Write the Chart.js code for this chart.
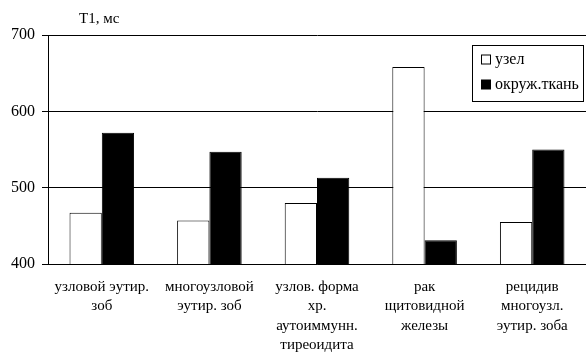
<!DOCTYPE html>
<html>
<head>
<meta charset="utf-8">
<script src="https://cdn.jsdelivr.net/npm/chart.js@4"></script>
<style>
  html, body { margin: 0; padding: 0; background: #fff; }
  #wrap { width: 586px; height: 354px; }
</style>
</head>
<body>
<div id="wrap"><canvas id="c" width="586" height="354"></canvas></div>
<script>
const categories = [
  ['узловой эутир.', 'зоб'],
  ['многоузловой', 'эутир. зоб'],
  ['узлов. форма', 'хр.', 'аутоиммунн.', 'тиреоидита'],
  ['рак', 'щитовидной', 'железы'],
  ['рецидив', 'многоузл.', 'эутир. зоба']
];
const nodeValues = [467, 457, 480, 658, 455];
const tissueValues = [572, 547, 513, 431, 550];
const seriesNames = ['узел', 'окруж.ткань'];
const yTicks = [400, 500, 600, 700];
const axisTitle = 'Т1, мс';

const FONT = '"Liberation Serif", "Times New Roman", serif';

// title above the axis + boxed legend inside the plot
const decor = {
  id: 'decor',
  afterDraw(chart) {
    const c = chart.ctx;
    c.save();
    c.fillStyle = '#000';
    c.font = '15px ' + FONT;
    c.textBaseline = 'middle';
    c.textAlign = 'left';
    c.fillText(axisTitle, 79, 19);

    const bx = 472.5, by = 45.5, bw = 111, bh = 56;
    c.fillStyle = '#fff';
    c.fillRect(bx, by, bw, bh);
    c.strokeStyle = '#000';
    c.lineWidth = 1;
    c.strokeRect(bx, by, bw, bh);

    c.font = '16px ' + FONT;
    chart.data.datasets.forEach((ds, i) => {
      const y = by + 14.5 + i * 25;
      c.fillStyle = ds.backgroundColor;
      c.fillRect(481.5, y - 5, 9, 9);
      c.strokeStyle = '#000';
      c.strokeRect(481.5, y - 5, 9, 9);
      c.fillStyle = '#000';
      c.fillText(ds.label, 495, y);
    });
    c.restore();
  }
};

new Chart(document.getElementById('c'), {
  type: 'bar',
  data: {
    labels: categories,
    datasets: [
      { label: seriesNames[0], data: nodeValues, backgroundColor: '#ffffff', borderColor: '#000', borderWidth: 1 },
      { label: seriesNames[1], data: tissueValues, backgroundColor: '#000000', borderColor: '#000', borderWidth: 1 }
    ]
  },
  options: {
    responsive: false,
    animation: false,
    categoryPercentage: 0.6,
    barPercentage: 1.0,
    layout: { padding: { top: 35, left: 0, right: 0, bottom: 0 } },
    plugins: { legend: { display: false }, tooltip: { enabled: false } },
    scales: {
      x: {
        grid: { display: false },
        border: { display: true, color: '#000', width: 1 },
        ticks: { color: '#000', font: { family: FONT, size: 15, lineHeight: 1.3 }, padding: 5, maxRotation: 0, autoSkip: false },
        afterFit: s => { s.height = 90; }
      },
      y: {
        min: 400, max: 700,
        afterBuildTicks: s => { s.ticks = yTicks.map(v => ({ value: v })); },
        grid: { color: '#000', lineWidth: 1, tickLength: 6, drawTicks: true },
        border: { display: true, color: '#000', width: 1 },
        ticks: { color: '#000', font: { family: FONT, size: 16 }, padding: 7 },
        afterFit: s => { s.width = 48; }
      }
    }
  },
  plugins: [decor]
});
</script>
</body>
</html>
